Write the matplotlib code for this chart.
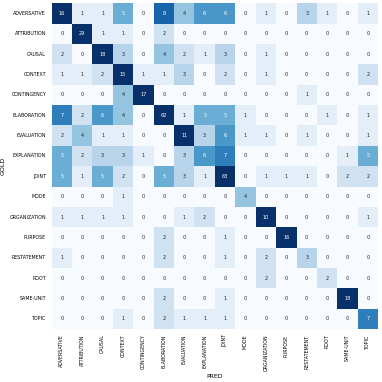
import numpy as np
import matplotlib
matplotlib.use("Agg")
import matplotlib.pyplot as plt
import seaborn as sns

labels = ["ADVERSATIVE", "ATTRIBUTION", "CAUSAL", "CONTEXT", "CONTINGENCY",
          "ELABORATION", "EVALUATION", "EXPLANATION", "JOINT", "MODE",
          "ORGANIZATION", "PURPOSE", "RESTATEMENT", "ROOT", "SAME-UNIT", "TOPIC"]

row_adversative = [16, 1, 1, 5, 0, 8, 4, 6, 6, 0, 1, 0, 3, 1, 0, 1]
row_attribution = [0, 29, 1, 1, 0, 2, 0, 0, 0, 0, 0, 0, 0, 0, 0, 0]
row_causal = [2, 0, 18, 3, 0, 4, 2, 1, 3, 0, 1, 0, 0, 0, 0, 0]
row_context = [1, 1, 2, 15, 1, 1, 3, 0, 2, 0, 1, 0, 0, 0, 0, 2]
row_contingency = [0, 0, 0, 4, 17, 0, 0, 0, 0, 0, 0, 0, 1, 0, 0, 0]
row_elaboration = [7, 2, 6, 4, 0, 62, 1, 5, 5, 1, 0, 0, 0, 1, 0, 1]
row_evaluation = [2, 4, 1, 1, 0, 0, 11, 3, 6, 1, 1, 0, 1, 0, 0, 1]
row_explanation = [5, 2, 3, 3, 1, 0, 3, 6, 7, 0, 0, 0, 0, 0, 1, 5]
row_joint = [5, 1, 5, 2, 0, 5, 3, 1, 63, 0, 1, 1, 1, 0, 2, 2]
row_mode = [0, 0, 0, 1, 0, 0, 0, 0, 0, 4, 0, 0, 0, 0, 0, 0]
row_organization = [1, 1, 1, 1, 0, 0, 1, 2, 0, 0, 10, 0, 0, 0, 0, 1]
row_purpose = [0, 0, 0, 0, 0, 2, 0, 0, 1, 0, 0, 16, 0, 0, 0, 0]
row_restatement = [1, 0, 0, 0, 0, 2, 0, 0, 1, 0, 2, 0, 3, 0, 0, 0]
row_root = [0, 0, 0, 0, 0, 0, 0, 0, 0, 0, 2, 0, 0, 2, 0, 0]
row_same_unit = [0, 0, 0, 0, 0, 2, 0, 0, 1, 0, 0, 0, 0, 0, 18, 0]
row_topic = [0, 0, 0, 1, 0, 2, 1, 1, 1, 0, 0, 0, 0, 0, 0, 7]

cm = np.array([row_adversative, row_attribution, row_causal, row_context,
               row_contingency, row_elaboration, row_evaluation, row_explanation,
               row_joint, row_mode, row_organization, row_purpose,
               row_restatement, row_root, row_same_unit, row_topic])

fig = plt.figure(figsize=(3.82, 3.82), dpi=100)
ax = fig.add_axes([0.135, 0.139, 0.855, 0.852])

sns.heatmap(cm, ax=ax, cmap="Blues", vmin=0, vmax=10, annot=True, fmt="d",
            cbar=False, annot_kws={"fontsize": 3.6},
            xticklabels=labels, yticklabels=labels)

ax.tick_params(axis="both", length=0, labelsize=3.4, pad=4)
plt.setp(ax.get_xticklabels(), rotation=90)
plt.setp(ax.get_yticklabels(), rotation=0)
ax.set_xlabel("PRED", fontsize=4.5, labelpad=2)
ax.set_ylabel("GOLD", fontsize=4.5, labelpad=3)

fig.savefig("out.png", dpi=100)
